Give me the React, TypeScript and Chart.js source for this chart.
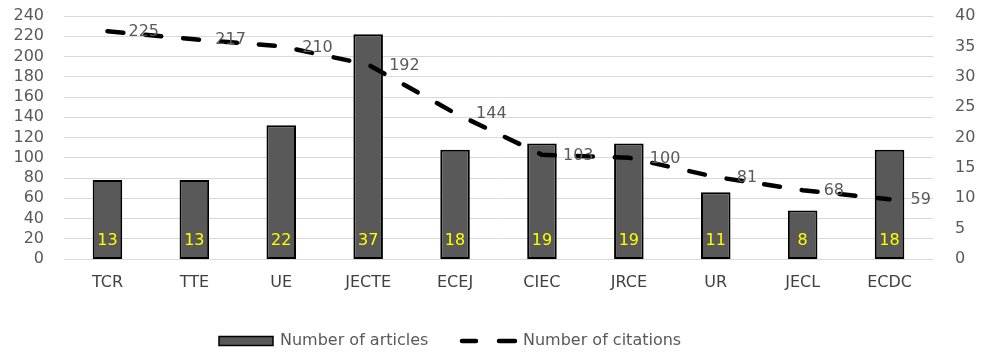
import React, { useEffect, useRef } from "react";
import { Chart, registerables } from "chart.js";

Chart.register(...registerables);

const categories = ["TCR", "TTE", "UE", "JECTE", "ECEJ", "CIEC", "JRCE", "UR", "JECL", "ECDC"];
const articles = [13, 13, 22, 37, 18, 19, 19, 11, 8, 18];
const citations = [225, 217, 210, 192, 144, 103, 100, 81, 68, 59];
const leftTicks = { min: 0, max: 240, step: 20 };
const rightTicks = { min: 0, max: 40, step: 5 };
const seriesNames = ["Number of articles", "Number of citations"];

const FONT = "'DejaVu Sans', sans-serif";
const GRAY = "#595959";

const labelPlugin = {
  id: "labels",
  afterDatasetsDraw(chart: any) {
    const ctx = chart.ctx;
    ctx.save();
    ctx.font = `16px ${FONT}`;
    const barMeta = chart.getDatasetMeta(1);
    ctx.fillStyle = "#FFFF00";
    ctx.textAlign = "center";
    ctx.textBaseline = "middle";
    barMeta.data.forEach((el: any, i: number) => {
      ctx.fillText(String(articles[i]), el.x, el.base - 18);
    });
    const lineMeta = chart.getDatasetMeta(0);
    ctx.fillStyle = GRAY;
    ctx.textAlign = "left";
    lineMeta.data.forEach((el: any, i: number) => {
      ctx.fillText(String(citations[i]), el.x + 21, el.y + 1);
    });
    ctx.restore();
  },
  afterDraw(chart: any) {
    const ctx = chart.ctx;
    ctx.save();
    const cy = 341;
    ctx.fillStyle = GRAY;
    ctx.strokeStyle = "#000";
    ctx.lineWidth = 1.5;
    ctx.fillRect(219, cy - 4.5, 54, 9);
    ctx.strokeRect(219, cy - 4.5, 54, 9);
    ctx.font = `16px ${FONT}`;
    ctx.textBaseline = "middle";
    ctx.textAlign = "left";
    ctx.fillStyle = GRAY;
    ctx.fillText(seriesNames[0], 280, cy);
    ctx.strokeStyle = "#000";
    ctx.lineWidth = 4.5;
    ctx.lineCap = "round";
    ctx.beginPath();
    ctx.moveTo(462, cy);
    ctx.lineTo(476, cy);
    ctx.moveTo(499, cy);
    ctx.lineTo(515, cy);
    ctx.stroke();
    ctx.fillText(seriesNames[1], 523, cy);
    ctx.restore();
  },
};

const noPad = (w: number) => (s: any) => {
  s.width = w;
  s.paddingTop = 0;
  s.paddingBottom = 0;
};

export default function App() {
  const ref = useRef<HTMLCanvasElement>(null);
  useEffect(() => {
    document.body.style.margin = "0";
    const chart = new Chart(ref.current!, {
      type: "bar",
      data: {
        labels: categories,
        datasets: [
          {
            type: "line",
            label: seriesNames[1],
            data: citations,
            yAxisID: "y",
            borderColor: "#000",
            borderWidth: 4.5,
            borderDash: [16, 22],
            borderCapStyle: "round",
            pointRadius: 0,
            tension: 0,
            fill: false,
            order: 0,
          } as any,
          {
            type: "bar",
            label: seriesNames[0],
            data: articles,
            yAxisID: "y1",
            backgroundColor: GRAY,
            borderColor: "#000",
            borderWidth: 2,
            borderSkipped: false,
            categoryPercentage: 1,
            barPercentage: 0.34,
            order: 1,
          } as any,
        ],
      },
      options: {
        responsive: false,
        animation: false,
        layout: { padding: { top: 16, left: 0, right: 0, bottom: 0 } },
        plugins: { legend: { display: false }, tooltip: { enabled: false } },
        scales: {
          x: {
            grid: { display: false, drawTicks: false },
            border: { display: false },
            ticks: { color: "#404040", font: { family: FONT, size: 16 }, padding: 14, maxRotation: 0, autoSkip: false },
            afterFit: (s: any) => { s.height = 95; s.paddingLeft = 0; s.paddingRight = 0; },
          },
          y: {
            position: "left",
            min: leftTicks.min,
            max: leftTicks.max,
            ticks: { stepSize: leftTicks.step, color: GRAY, font: { family: FONT, size: 16 }, padding: 20, autoSkip: false },
            grid: { color: "#d9d9d9", lineWidth: 1, drawTicks: false },
            border: { display: false },
            afterFit: noPad(64),
          },
          y1: {
            position: "right",
            min: rightTicks.min,
            max: rightTicks.max,
            ticks: { stepSize: rightTicks.step, color: GRAY, font: { family: FONT, size: 16 }, padding: 22, autoSkip: false },
            grid: { display: false, drawTicks: false },
            border: { display: false },
            afterFit: noPad(49),
          },
        },
      },
      plugins: [labelPlugin],
    });
    return () => chart.destroy();
  }, []);
  return (
    <div style={{ position: "absolute", left: 0, top: 0, width: 982, height: 354, background: "#fff" }}>
      <canvas ref={ref} width={982} height={354} />
    </div>
  );
}
